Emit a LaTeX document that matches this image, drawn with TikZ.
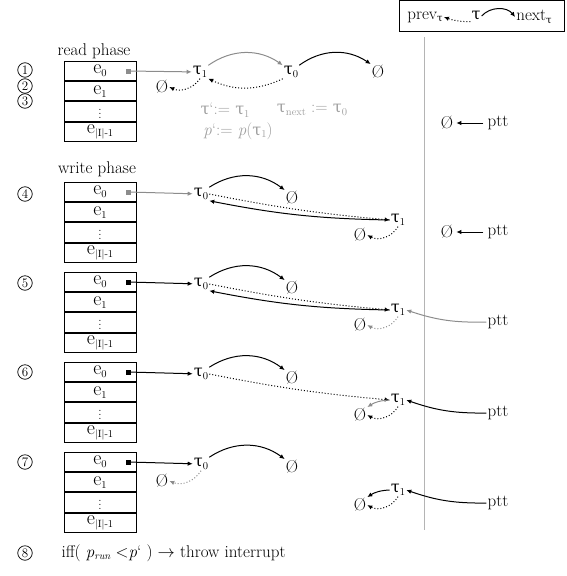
\documentclass[tikz,border=0pt]{standalone}
\usepackage{fontspec}
\usetikzlibrary{arrows.meta,positioning}
\newfontfamily\grk[Scale=0.95]{DejaVu Serif}
\definecolor{linkgray}{HTML}{8C8C8C}
\definecolor{notegray}{HTML}{A0A0A0}
\definecolor{rulegray}{HTML}{B4B4B4}

\newcommand{\lowsub}[1]{\raisebox{-0.35ex}{\fontsize{10.5}{11}\selectfont #1}}
\newcommand{\tsub}[1]{{\grk τ}\lowsub{#1}}
\newcommand{\esub}[1]{e\lowsub{#1}}

% entry table, top cell at #2
\newcommand{\entries}[2]{%
  \node[cell] (#1-0) at #2 {\esub{0}};
  \node[cell, below=0pt of #1-0] (#1-1) {\esub{1}};
  \node[cell, below=0pt of #1-1] (#1-2) {\fontsize{12}{12}\selectfont$\vdots$};
  \node[cell, below=0pt of #1-2] (#1-3) {\esub{|I|-1}};
}

\begin{document}
\begin{tikzpicture}[
        x=1pt, y=-1pt,
        every node/.style={font=\fontsize{17}{20}\selectfont},
        cell/.style={
          draw,
          line width=0.9pt,
          minimum width=72pt,
          minimum height=19.3pt,
          inner sep=0pt,
          font=\fontsize{20}{18}\selectfont
        },
        sym/.style={inner sep=1pt},
        num/.style={
          circle,
          draw,
          line width=0.7pt,
          minimum size=14.5pt,
          inner sep=0pt,
          font=\fontsize{13}{13}\selectfont
        },
        stub/.style={fill, minimum size=5pt, inner sep=0pt},
        link/.style={-{Latex[length=5pt,width=4.5pt]}, line width=1pt},
        weak/.style={link, linkgray},
        back/.style={link, dotted}
      ]

      \useasboundingbox (0,0) rectangle (567,576);

      % legend
      \node[draw, line width=0.9pt, minimum width=165pt, minimum height=31pt] (legend) at (482,16) {};
      \node[sym] (lprev) at (425,17) {prev\lowsub{\grk τ}};
      \node[sym] (ltau) at (476,16) {\grk τ};
      \node[sym] (lnext) at (534,17) {next\lowsub{\grk τ}};
      \draw[back] (ltau.south west) to[bend left=10] (lprev.east);
      \draw[link] (ltau.east) to[bend left=50] (lnext.west);

      \draw[rulegray, line width=1pt] (424,37) -- (424,530);

      % read phase
      \node (read) at (94,51) {read phase};
      \node[num] (n1) at (25,70) {1};
      \node[num] (n2) at (25,86) {2};
      \node[num] (n3) at (25,101) {3};
      \entries{ta}{(100,71)}
      \node[stub, linkgray] (sqA) at (128,71) {};
      \node[sym] (tauA1) at (200,72) {\tsub{1}};
      \node[sym] (tauA0) at (291,72) {\tsub{0}};
      \node[sym] (nilA) at (378,72) {Ø};
      \node[sym] (nilAl) at (162,87) {Ø};
      \draw[weak] (sqA) -- (tauA1);
      \draw[weak] (tauA1.north east) to[bend left=35] (tauA0.north west);
      \draw[link] (tauA0.north east) to[bend left=35] (nilA.north west);
      \draw[back] (tauA0.south west) to[bend left=25] (tauA1.south east);
      \draw[back] (tauA1.south) to[bend left=40] (nilAl.east);

      \node[notegray] (tprime) at (225,110) {{\grk τ}‘:= \tsub{1}};
      \node[notegray] (tnext) at (312,110) {{\grk τ}\lowsub{next} := \tsub{0}};
      \node[notegray] (pprime) at (238,131) {\textit{p}‘:= \textit{p}(\tsub{1})};

      \node[sym] (nilAr) at (447,123) {Ø};
      \node[sym] (pttA) at (498,123) {ptt};
      \draw[link, shorten >=2pt, shorten <=3pt] (pttA) -- (nilAr);

      % write phase
      \node (write) at (97,169) {write phase};
      \node[num] (n4) at (25,194) {4};
      \entries{tb}{(100,192)}
      \node[stub, linkgray] (sqB) at (128,192) {};
      \node[sym] (tauB0) at (201,194) {\tsub{0}};
      \node[sym] (nilB) at (292,198) {Ø};
      \node[sym] (tauB1) at (398,220) {\tsub{1}};
      \node[sym] (nilBl) at (360,235) {Ø};
      \draw[weak] (sqB) -- (tauB0);
      \draw[link] (tauB0.north east) to[bend left=35] (nilB.north west);
      \draw[back] (tauB0.east) to[bend right=3] (tauB1.west);
      \draw[link] (tauB1.west) to[bend left=5] (tauB0.south east);
      \draw[back] (tauB1.south) to[bend left=45] (nilBl.east);

      \node[sym] (nilBr) at (447,232) {Ø};
      \node[sym] (pttB) at (498,232) {ptt};
      \draw[link, shorten >=2pt, shorten <=3pt] (pttB) -- (nilBr);

      % step 5
      \node[num] (n5) at (25,283) {5};
      \entries{tc}{(100,282)}
      \node[stub] (sqC) at (128,282) {};
      \node[sym] (tauC0) at (201,284) {\tsub{0}};
      \node[sym] (nilC) at (292,288) {Ø};
      \node[sym] (tauC1) at (398,310) {\tsub{1}};
      \node[sym] (nilCl) at (360,325) {Ø};
      \node[sym] (pttC) at (498,322) {ptt};
      \draw[link] (sqC) -- (tauC0);
      \draw[link] (tauC0.north east) to[bend left=35] (nilC.north west);
      \draw[back] (tauC0.east) to[bend right=3] (tauC1.west);
      \draw[link] (tauC1.west) to[bend left=5] (tauC0.south east);
      \draw[back, linkgray] (tauC1.south) to[bend left=45] (nilCl.east);
      \draw[weak] (pttC.west) to[bend left=10] (tauC1.east);

      % step 6
      \node[num] (n6) at (25,372) {6};
      \entries{td}{(100,372)}
      \node[stub] (sqD) at (128,372) {};
      \node[sym] (tauD0) at (201,374) {\tsub{0}};
      \node[sym] (nilD) at (292,378) {Ø};
      \node[sym] (tauD1) at (398,400) {\tsub{1}};
      \node[sym] (nilDl) at (360,415) {Ø};
      \node[sym] (pttD) at (498,413) {ptt};
      \draw[link] (sqD) -- (tauD0);
      \draw[link] (tauD0.north east) to[bend left=35] (nilD.north west);
      \draw[back] (tauD0.east) to[bend right=3] (tauD1.west);
      \draw[weak] (tauD1.west) to[bend right=15] (nilDl.north east);
      \draw[back] (tauD1.south) to[bend left=45] (nilDl.east);
      \draw[link] (pttD.west) to[bend left=10] (tauD1.east);

      % step 7
      \node[num] (n7) at (25,462) {7};
      \entries{te}{(100,462)}
      \node[stub] (sqE) at (128,462) {};
      \node[sym] (tauE0) at (201,464) {\tsub{0}};
      \node[sym] (nilE) at (292,467) {Ø};
      \node[sym] (nilEm) at (162,481) {Ø};
      \node[sym] (tauE1) at (398,490) {\tsub{1}};
      \node[sym] (nilEl) at (360,505) {Ø};
      \node[sym] (pttE) at (498,503) {ptt};
      \draw[link] (sqE) -- (tauE0);
      \draw[link] (tauE0.north east) to[bend left=35] (nilE.north west);
      \draw[back, linkgray] (tauE0.south) to[bend left=40] (nilEm.east);
      \draw[link] (tauE1.west) to[bend right=15] (nilEl.north east);
      \draw[back] (tauE1.south) to[bend left=45] (nilEl.east);
      \draw[link] (pttE.west) to[bend left=10] (tauE1.east);

      % step 8
      \node[num] (n8) at (25,553) {8};
      \node[anchor=west] (iff) at (58,553) {iff( \textit{p}\lowsub{\textit{run}} <\textit{p}‘ ) $\rightarrow$ throw interrupt};

      \end{tikzpicture}
\end{document}
